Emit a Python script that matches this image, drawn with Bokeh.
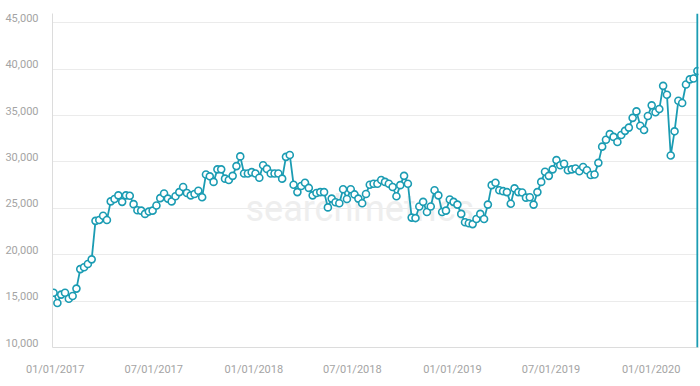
import pandas as pd
from bokeh.plotting import figure
from bokeh.models import (ColumnDataSource, FixedTicker, DatetimeTickFormatter,
                          Span, Label, Range1d, LinearAxis)
from bokeh.embed import file_html
from bokeh.resources import INLINE

# weekly visibility values
values = [
    15900, 14800, 15700, 15900, 15250, 15550, 16350, 18450, 18650, 19000,
    19500, 23650, 23750, 24200, 23750, 25750, 26000, 26400, 25700, 26400,
    26350, 25450, 24800, 24750, 24400, 24650, 24750, 25300, 26100,
    26600, 26050, 25750, 26300, 26750, 27300, 26650, 26400, 26550, 26900,
    26200, 28650, 28450, 27850, 29200, 29200, 28200, 28050, 28500, 29550,
    30600, 28750, 28750, 28900, 28750, 28300, 29650, 29250, 28750,
    28750, 28750, 28200, 30550, 30750, 27550, 26750, 27400, 27750, 27200,
    26400, 26650, 26750, 26750, 25100, 26050, 25650, 25550, 27050, 26000,
    27050, 26500, 26050, 25550, 26550, 27550, 27650, 27650, 28050,
    27850, 27650, 27300, 26300, 27500, 28500, 27650, 24000, 23950, 25200,
    25700, 24600, 25200, 26950, 26400, 24600, 24750, 25950, 25700, 25400,
    24400, 23500, 23400, 23300, 23850, 24400, 23850, 25400, 27500,
    27750, 26950, 26850, 26750, 25500, 27150, 26750, 26700, 26150, 26200,
    25400, 26750, 27850, 28950, 28500, 29200, 30200, 29650, 29800, 29100,
    29200, 29300, 29000, 29450, 29100, 28600, 28650, 29900,
    31650, 32400, 33000, 32700, 32150, 32900, 33350, 33700, 34750, 35450,
    33900, 33450, 34950, 36100, 35350, 35700, 38200, 37250, 30700, 33300,
    36600, 36350, 38350, 38900, 39000, 39800,
]
start_date = "2016-12-29"
dates = pd.date_range(start_date, periods=len(values), freq="7D")

y_ticks = [10000, 15000, 20000, 25000, 30000, 35000, 40000, 45000]
y_tick_labels = ["10,000", "15,000", "20,000", "25,000", "30,000", "35,000",
                 "40,000", "45,000"]
x_tick_dates = ["2017-01-01", "2017-07-01", "2018-01-01", "2018-07-01",
                "2019-01-01", "2019-07-01", "2020-01-01"]

TEAL = "#1b9cb3"
LABEL = "#a4a4a4"
GRID = "#ebebeb"
AXIS = "#dcdcdc"

Y0, Y1 = 10000, 46000
src = ColumnDataSource(dict(date=dates, value=values))

pad = pd.Timedelta(days=2)
x_start = dates[0] - pad
p = figure(width=700, height=386, output_backend="svg", toolbar_location=None,
           x_axis_type="datetime",
           x_range=Range1d(x_start, dates[-1] + pad),
           y_range=Range1d(Y0, Y1))
p.min_border_left = 52
p.min_border_right = 2
p.min_border_top = 13
p.min_border_bottom = 39
p.outline_line_color = None

# watermark
wm = Label(x=193, y=139, x_units="screen", y_units="screen", text="searchmetrics",
           text_font="Roboto", text_font_size="36px", text_color="#eeeeee",
           text_baseline="alphabetic", level="underlay")
p.add_layout(wm)

p.line("date", "value", source=src, line_color=TEAL, line_width=1.8)
p.scatter("date", "value", source=src, size=7, fill_color="white",
          line_color=TEAL, line_width=1.6)

p.add_layout(Span(location=dates[-1], dimension="height", line_color=TEAL,
                  line_width=2))

# y axis: labels sit ~5px above their grid lines -> shifted label range
frame_h = 386 - 13 - 39
shift = 5 * (Y1 - Y0) / frame_h
p.yaxis.visible = False
p.extra_y_ranges = {"lab": Range1d(Y0 - shift, Y1 - shift)}
yax = LinearAxis(y_range_name="lab", ticker=FixedTicker(ticks=y_ticks),
                 major_label_overrides=dict(zip(y_ticks, y_tick_labels)))
yax.axis_line_color = AXIS
yax.major_tick_line_color = None
yax.minor_tick_line_color = None
yax.major_tick_out = 0
yax.major_tick_in = 0
yax.major_label_text_color = LABEL
yax.major_label_text_font = "Roboto"
yax.major_label_text_font_size = "11px"
yax.major_label_standoff = 14
p.add_layout(yax, "left")

p.ygrid.ticker = FixedTicker(ticks=y_ticks)
p.ygrid.grid_line_color = GRID
p.ygrid.grid_line_width = 1

tick_ms = [pd.Timestamp(d).value // 10**6 for d in x_tick_dates]
p.xaxis.ticker = FixedTicker(ticks=tick_ms)
fmt = "%m/%d/%Y"
p.xaxis.formatter = DatetimeTickFormatter(days=fmt, months=fmt, years=fmt,
                                          hours=fmt, minutes=fmt)
p.xaxis.axis_line_color = AXIS
p.xaxis.major_tick_line_color = None
p.xaxis.minor_tick_line_color = None
p.xaxis.major_tick_out = 0
p.xaxis.major_tick_in = 0
p.xaxis.major_label_text_color = LABEL
p.xaxis.major_label_text_font = "Roboto"
p.xaxis.major_label_text_font_size = "11px"
p.xaxis.major_label_standoff = 15
p.xgrid.grid_line_color = None

open("out.html", "w").write(file_html(p, INLINE))
